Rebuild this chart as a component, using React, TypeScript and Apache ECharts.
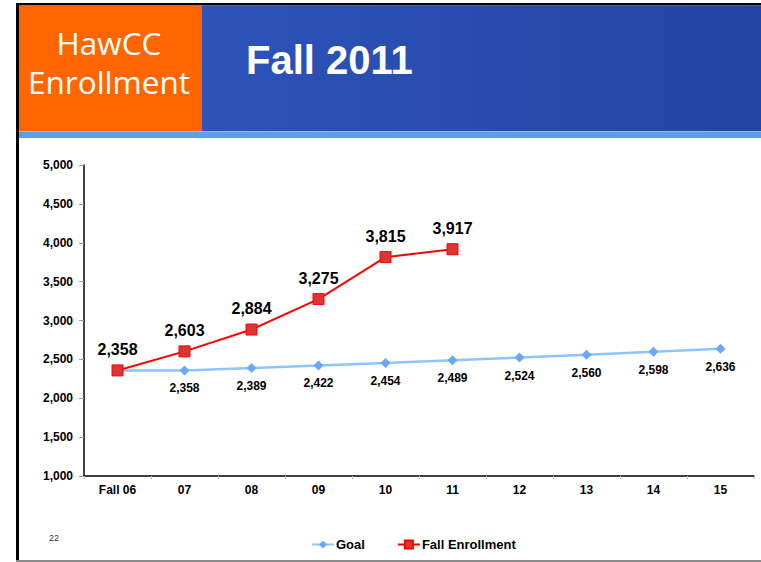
import React, { useEffect, useRef } from "react";
import * as echarts from "echarts";

const categories = ["Fall 06", "07", "08", "09", "10", "11", "12", "13", "14", "15"];
const goalValues = [2358, 2358, 2389, 2422, 2454, 2489, 2524, 2560, 2598, 2636];
const enrollmentValues: (number | null)[] = [2358, 2603, 2884, 3275, 3815, 3917, null, null, null, null];
const yTicks = { min: 1000, max: 5000, interval: 500 };

export default function App() {
  const ref = useRef<HTMLDivElement>(null);
  useEffect(() => {
    document.body.style.margin = "0";
    const chart = echarts.init(ref.current!, null, { renderer: "svg" });
    const fmt = (v: number) => v.toLocaleString("en-US");
    chart.setOption({
      animation: false,
      backgroundColor: "#ffffff",
      textStyle: { fontFamily: "Liberation Sans, Arial, sans-serif" },
      graphic: [
        { type: "rect", shape: { x: 16, y: 3, width: 745, height: 2.5 }, style: { fill: "#000" } },
        { type: "rect", shape: { x: 16, y: 3, width: 3, height: 559 }, style: { fill: "#000" } },
        { type: "rect", shape: { x: 16, y: 560, width: 745, height: 2 }, style: { fill: "#8a8a8a" } },
        {
          type: "rect",
          shape: { x: 202, y: 5.5, width: 559, height: 126 },
          style: {
            fill: new echarts.graphic.LinearGradient(0, 0, 1, 0, [
              { offset: 0, color: "#2d52b9" },
              { offset: 0.5, color: "#284cae" },
              { offset: 1, color: "#2444a3" },
            ]),
          },
        },
        { type: "rect", shape: { x: 19, y: 5.5, width: 183, height: 126 }, style: { fill: "#ff6600" } },
        { type: "rect", shape: { x: 19, y: 131, width: 742, height: 7 }, style: { fill: "#5b9fe8" } },
        { type: "rect", shape: { x: 19, y: 131, width: 742, height: 1 }, style: { fill: "#8bbcf0" } },
        {
          type: "text",
          style: {
            text: "HawCC",
            x: 109,
            y: 58,
            textAlign: "center",
            textVerticalAlign: "bottom",
            fill: "#fff",
            font: "31.5px 'Open Sans', sans-serif",
          },
        },
        {
          type: "text",
          style: {
            text: "Enrollment",
            x: 109,
            y: 97,
            textAlign: "center",
            textVerticalAlign: "bottom",
            fill: "#fff",
            font: "31.5px 'Open Sans', sans-serif",
          },
        },
        {
          type: "text",
          style: {
            text: "Fall 2011",
            x: 246,
            y: 60,
            textAlign: "left",
            textVerticalAlign: "middle",
            fill: "#fff",
            font: "bold 40px 'Liberation Sans', Arial, sans-serif",
          },
        },
        {
          type: "text",
          style: {
            text: "22",
            x: 54,
            y: 538,
            textAlign: "center",
            textVerticalAlign: "middle",
            fill: "#333",
            font: "9px 'Liberation Sans', Arial, sans-serif",
          },
        },
      ],
      grid: { left: 84, right: 7, top: 165, bottom: 86 },
      legend: {
        bottom: 6,
        left: 306,
        itemGap: 32,
        itemWidth: 22,
        itemHeight: 10,
        textStyle: { fontWeight: "bold", fontSize: 13, color: "#000", padding: [0, 0, 0, -3] },
        data: ["Goal", "Fall Enrollment"],
      },
      xAxis: {
        type: "category",
        data: categories,
        boundaryGap: true,
        axisLine: { lineStyle: { color: "#000", width: 1.5 } },
        axisTick: { show: true, length: 3, lineStyle: { color: "#bbb" } },
        axisLabel: { color: "#000", fontWeight: "bold", fontSize: 12, margin: 8 },
      },
      yAxis: {
        type: "value",
        min: yTicks.min,
        max: yTicks.max,
        interval: yTicks.interval,
        axisLine: { show: true, lineStyle: { color: "#000", width: 1.5 } },
        axisTick: { show: true, length: 5, lineStyle: { color: "#999" } },
        splitLine: { show: false },
        axisLabel: { color: "#000", fontWeight: "bold", fontSize: 12, margin: 11, formatter: fmt },
      },
      series: [
        {
          name: "Goal",
          type: "line",
          data: goalValues.map((v, i) => ({ value: v, label: { show: i > 0 } })),
          symbol: "diamond",
          symbolSize: 10,
          lineStyle: { color: "#8fc4ff", width: 2.5 },
          itemStyle: { color: "#6aa8f5" },
          label: {
            show: true,
            position: "bottom",
            distance: 7,
            fontWeight: "bold",
            fontSize: 12,
            color: "#000",
            formatter: (p: any) => fmt(p.value),
          },
          z: 2,
        },
        {
          name: "Fall Enrollment",
          type: "line",
          data: enrollmentValues,
          symbol: "rect",
          symbolSize: 11,
          lineStyle: { color: "#ff0000", width: 2 },
          itemStyle: { color: "#dc3535", borderColor: "#ff0000", borderWidth: 1 },
          label: {
            show: true,
            position: "top",
            distance: 7,
            fontWeight: "bold",
            fontSize: 16,
            color: "#000",
            formatter: (p: any) => fmt(p.value),
          },
          z: 3,
        },
      ],
    });
    return () => chart.dispose();
  }, []);
  return <div ref={ref} style={{ width: 761, height: 562 }} />;
}
